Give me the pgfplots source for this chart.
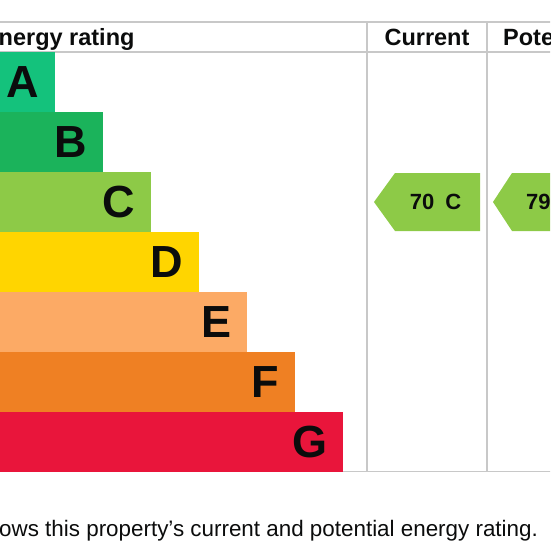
\documentclass[border=0pt]{standalone}
\usepackage{pgfplots}
\pgfplotsset{compat=1.18}
\usepackage{fontspec}
\setmainfont{Liberation Sans}
\definecolor{bandA}{HTML}{14C27C}
\definecolor{bandB}{HTML}{1BB35B}
\definecolor{bandC}{HTML}{8DCA47}
\definecolor{bandD}{HTML}{FFD500}
\definecolor{bandE}{HTML}{FCAA65}
\definecolor{bandF}{HTML}{EF8023}
\definecolor{bandG}{HTML}{E9153B}
\definecolor{gridgray}{HTML}{C8C8C8}
\definecolor{ink}{HTML}{0B0C0C}
\begin{document}
\begin{tikzpicture}
\useasboundingbox (0,0) rectangle (550pt,550pt);
\clip (0,0) rectangle (550pt,550pt);
\begin{axis}[at={(0,0)}, anchor=south west, scale only axis,
  width=550pt, height=550pt, xmin=0, xmax=550, ymin=0, ymax=550,
  y dir=reverse, axis lines=none, ticks=none, clip=false,
  every axis plot/.append style={draw=none}]
% table rules
\addplot[draw=gridgray, line width=1.3pt] coordinates {(0,22) (560,22)};
\addplot[draw=gridgray, line width=1.3pt] coordinates {(0,52) (560,52)};
\addplot[draw=gridgray, line width=1.3pt] coordinates {(0,471.5) (560,471.5)};
\addplot[draw=gridgray, line width=1.3pt] coordinates {(367,22) (367,471.5)};
\addplot[draw=gridgray, line width=1.3pt] coordinates {(487,22) (487,471.5)};
% bands
\pgfplotsset{band/.style={xbar, bar shift=0pt, bar width=60, draw=none, fill=#1,
  nodes near coords, point meta=explicit symbolic,
  nodes near coords style={anchor=east, xshift=-15.5pt, text=ink,
    font=\fontsize{45}{45}\selectfont\bfseries, inner sep=0pt}}}
\addplot[band=bandA] coordinates {(55,82) [A]};
\addplot[band=bandB] coordinates {(103,142) [B]};
\addplot[band=bandC] coordinates {(151,202) [C]};
\addplot[band=bandD] coordinates {(199,262) [D]};
\addplot[band=bandE] coordinates {(247,322) [E]};
\addplot[band=bandF] coordinates {(295,382) [F]};
\addplot[band=bandG] coordinates {(343,442) [G]};
% rating arrows
\addplot[fill=bandC, draw=none] coordinates {(374,202) (395,173) (480,173) (480,231) (395,231)} -- cycle;
\addplot[fill=bandC, draw=none] coordinates {(493,202) (512,173) (620,173) (620,231) (512,231)} -- cycle;
% texts
\node[anchor=base west, inner sep=0pt, text=ink, font=\fontsize{23.5}{23.5}\selectfont\bfseries] at (axis cs:-1.5,45) {nergy rating};
\node[anchor=base, inner sep=0pt, text=ink, font=\fontsize{23.5}{23.5}\selectfont\bfseries] at (axis cs:427,45) {Current};
\node[anchor=base west, inner sep=0pt, text=ink, font=\fontsize{23.5}{23.5}\selectfont\bfseries] at (axis cs:503,45) {Potential};
\node[anchor=base, inner sep=0pt, text=ink, font=\fontsize{22}{22}\selectfont\bfseries] at (axis cs:435.5,209) {70\hspace{0.5em}C};
\node[anchor=base west, inner sep=0pt, text=ink, font=\fontsize{22}{22}\selectfont\bfseries] at (axis cs:526,209) {79\hspace{0.5em}C};
\node[anchor=base west, inner sep=0pt, text=ink, font=\fontsize{22.4}{22.4}\selectfont] at (axis cs:-1,536) {ows this property’s current and potential energy rating.};
\end{axis}
\end{tikzpicture}
\end{document}
